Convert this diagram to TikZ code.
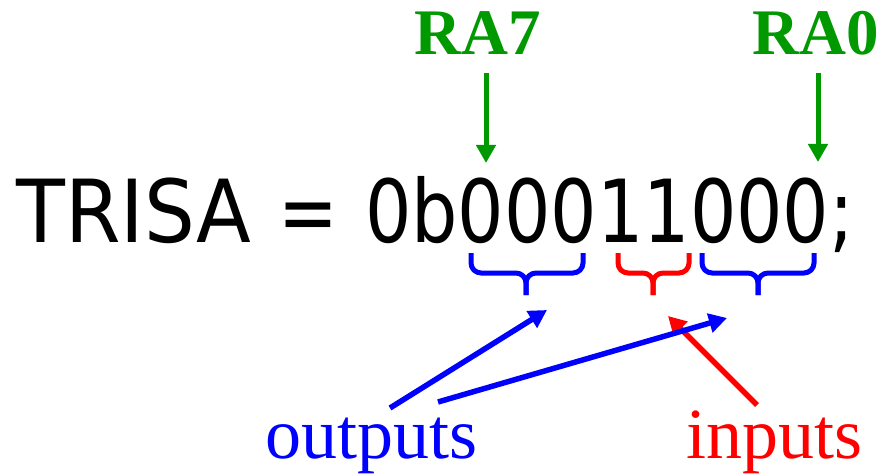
\documentclass[tikz,border=0pt]{standalone}
\usepackage{fontspec}
\usetikzlibrary{arrows.meta}
\newfontfamily\codefont{DejaVu Sans}
\newfontfamily\serifont{Liberation Serif}
\definecolor{pgreen}{RGB}{0,153,0}
\definecolor{pblue}{RGB}{0,0,255}
\definecolor{pred}{RGB}{255,0,0}
\tikzset{
  codetext/.style={inner sep=0pt, font=\codefont\fontsize{87}{90}\selectfont},
  bitlabel/.style={inner sep=0pt, anchor=base, text=pgreen, font=\serifont\bfseries\fontsize{65}{70}\selectfont},
  dirlabel/.style={inner sep=0pt, anchor=base west, font=\serifont\fontsize{72}{76}\selectfont},
  bitarrow/.style={draw=pgreen, line width=5pt, -{Triangle[length=18pt,width=19pt]}},
  grp/.style={line width=5pt, rounded corners=10pt},
  ptr/.style={line width=5.5pt, -{Triangle[length=18pt,width=19pt]}}
}
\begin{document}
\begin{tikzpicture}[x=1pt,y=-1pt]
\useasboundingbox (0,0) rectangle (879,476);
% main code line
\node[codetext, anchor=base west] (trisa) at (16,243) {\scalebox{0.92}[1]{TRISA}};
\node[codetext, anchor=base] (eq) at (308.5,243) {\scalebox{0.82}[1]{=}};
\node[codetext, anchor=base west] (val) at (365,243) {\scalebox{0.839}[1]{0b00011000;}};
% bit labels
\node[bitlabel] (ra7) at (478,55) {RA7};
\node[bitlabel] (ra0) at (816,55) {RA0};
\coordinate (a7s) at (486,73);
\coordinate (a7e) at (486,163);
\coordinate (a0s) at (818,73);
\coordinate (a0e) at (818,162);
\draw[bitarrow] (a7s) -- (a7e);
\draw[bitarrow] (a0s) -- (a0e);
% braces
\draw[grp, pblue] (471,253) -- (471,273) -- (526,273) -- (526,295);
\draw[grp, pblue] (583,253) -- (583,273) -- (526,273) -- (526,295);
\draw[grp, pred] (618,253) -- (618,273) -- (653,273) -- (653,295);
\draw[grp, pred] (689,253) -- (689,273) -- (653,273) -- (653,295);
\draw[grp, pblue] (702,253) -- (702,273) -- (758,273) -- (758,295);
\draw[grp, pblue] (814,253) -- (814,273) -- (758,273) -- (758,295);
% labels
\node[dirlabel, text=pblue] (outs) at (265,458) {outputs};
\node[dirlabel, text=pred] (ins) at (686,458) {inputs};
% pointers
\coordinate (o1s) at (390,408);
\coordinate (o1e) at (547,310);
\coordinate (o2s) at (438,402);
\coordinate (o2e) at (727,318);
\coordinate (i1s) at (757,405);
\coordinate (i1e) at (668,316);
\draw[ptr, pred] (i1s) -- (i1e);
\draw[ptr, pblue] (o1s) -- (o1e);
\draw[ptr, pblue] (o2s) -- (o2e);
\end{tikzpicture}
\end{document}
